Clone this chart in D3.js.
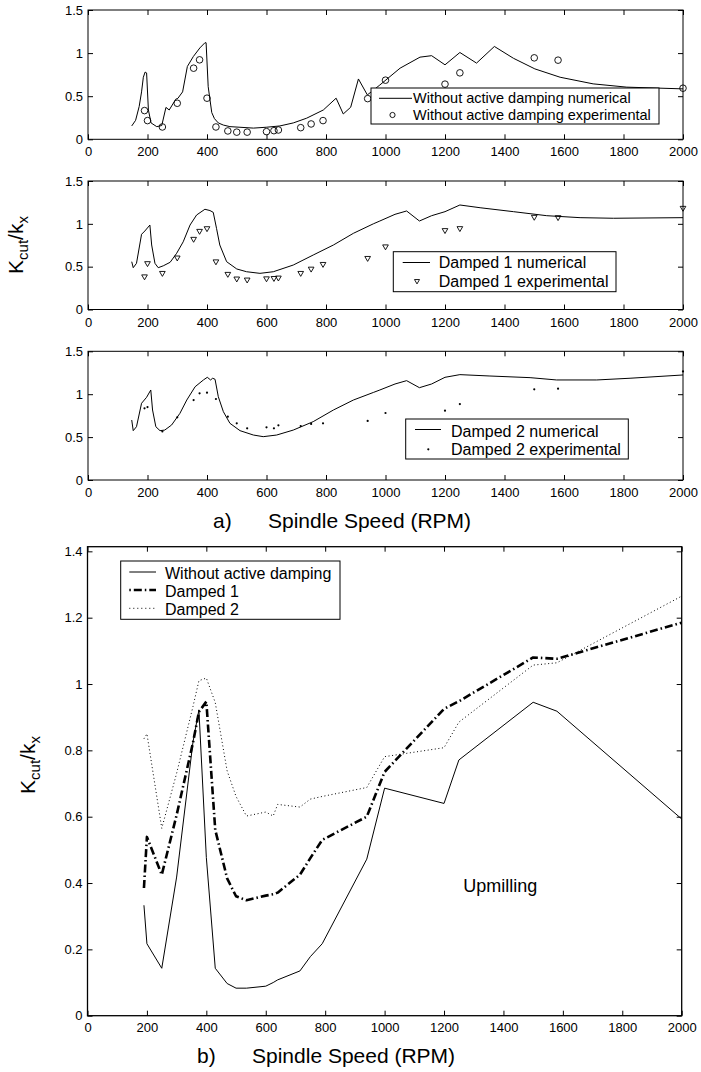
<!DOCTYPE html>
<html><head><meta charset="utf-8">
<script src="https://cdn.jsdelivr.net/npm/d3@7"></script>
<style>
body{margin:0;background:#fff}
svg{display:block}
text{font-family:"Liberation Sans",Arial,Helvetica,sans-serif;fill:#000}
</style>
</head><body>
<svg id="c" width="701" height="1072"></svg>
<script>
// ---------- data ----------
const xTicks = [0,200,400,600,800,1000,1200,1400,1600,1800,2000];
const yTicksSmall = [0,0.5,1,1.5];
const yTicksBig = [0,0.2,0.4,0.6,0.8,1,1.2,1.4];

// experimental spindle speeds (RPM)
const expSpeeds = [190,200,250,300,355,375,400,430,470,500,535,600,625,640,715,750,790,940,1000,1200,1250,1500,1580,2000];
const undampedExp = [0.333,0.217,0.143,0.418,0.825,0.922,0.477,0.143,0.097,0.083,0.083,0.089,0.100,0.108,0.135,0.178,0.217,0.472,0.686,0.640,0.771,0.945,0.918,0.593];
const damped1Exp  = [0.385,0.539,0.425,0.605,0.823,0.916,0.947,0.560,0.414,0.360,0.348,0.362,0.366,0.371,0.425,0.475,0.530,0.600,0.735,0.925,0.948,1.080,1.076,1.185];
const damped2Exp  = [0.835,0.850,0.565,0.731,0.932,1.010,1.018,0.944,0.738,0.661,0.602,0.614,0.602,0.637,0.629,0.653,0.661,0.688,0.781,0.808,0.885,1.057,1.064,1.265];

// numerical stability boundaries
const undampedNumSpeeds = [147,160,172,180,186,192,197,203,212,231,248,262,273,295,302,318,334,354,376,393,397,404,416,425,438,455,477,556,600,645,690,735,791,834,858,883,909,939,981,1049,1116,1155,1200,1250,1306,1366,1430,1502,1587,1698,1811,2000];
const undampedNumValues = [0.155,0.22,0.38,0.55,0.72,0.78,0.77,0.34,0.19,0.147,0.16,0.37,0.34,0.465,0.475,0.55,0.845,0.96,1.06,1.12,1.12,0.61,0.31,0.24,0.19,0.165,0.147,0.13,0.14,0.155,0.19,0.245,0.34,0.477,0.294,0.372,0.70,0.515,0.63,0.825,0.953,0.97,0.864,1.007,0.884,1.077,0.94,0.817,0.72,0.643,0.605,0.585];

const damped1NumSpeeds = [147,152,163,180,191,208,214,225,236,253,276,298,320,343,365,393,410,421,432,443,466,500,533,578,623,690,757,825,892,959,981,1032,1071,1114,1155,1200,1250,1318,1430,1542,1654,1766,2000];
const damped1NumValues = [0.558,0.488,0.539,0.878,0.916,0.986,0.753,0.539,0.488,0.51,0.551,0.656,0.79,0.986,1.103,1.17,1.155,1.134,0.947,0.753,0.558,0.473,0.441,0.422,0.441,0.519,0.636,0.753,0.889,1.0,1.033,1.111,1.15,1.033,1.095,1.142,1.22,1.188,1.142,1.095,1.072,1.065,1.072];

const damped2NumSpeeds = [147,152,163,180,197,211,217,228,242,258,281,309,332,360,388,401,412,419,427,438,455,477,511,556,589,634,690,757,825,892,959,981,1032,1071,1114,1155,1200,1250,1351,1486,1575,1710,1822,2000];
const damped2NumValues = [0.699,0.575,0.621,0.894,0.964,1.049,0.816,0.621,0.575,0.582,0.641,0.777,0.932,1.087,1.166,1.197,1.166,1.186,1.174,0.971,0.796,0.661,0.575,0.524,0.505,0.524,0.582,0.68,0.816,0.932,1.02,1.049,1.119,1.158,1.076,1.119,1.197,1.228,1.212,1.193,1.166,1.166,1.186,1.224];

const legend1 = ["Without active damping numerical","Without active damping experimental"];
const legend2 = ["Damped 1 numerical","Damped 1 experimental"];
const legend3 = ["Damped 2 numerical","Damped 2 experimental"];
const legend4 = ["Without active damping","Damped 1","Damped 2"];

// ---------- drawing ----------
const svg = d3.select("#c");
const FONT = '"Liberation Sans",Arial,Helvetica,sans-serif';

function zip(xs, ys){ return xs.map((x,i)=>[x,ys[i]]); }

function makeAxes(x0,x1,y0,y1,yMax,yTicks,labPad,frameW){
  const x = d3.scaleLinear().domain([0,2000]).range([x0,x1]);
  const y = d3.scaleLinear().domain([0,yMax]).range([y1,y0]);
  const g = svg.append("g");
  const fmt = d => String(d);
  const style = sel => {
    sel.select(".domain").remove();
    sel.selectAll(".tick line").attr("stroke","#000").attr("stroke-width",1);
    sel.attr("font-family",FONT).attr("font-size",13);
    sel.selectAll(".tick text").attr("fill","#000");
  };
  g.append("g").attr("transform",`translate(0,${y1})`)
    .call(d3.axisBottom(x).tickValues(xTicks).tickFormat(fmt).tickSizeInner(-5).tickSizeOuter(0).tickPadding(labPad)).call(style);
  g.append("g").attr("transform",`translate(0,${y0})`)
    .call(d3.axisTop(x).tickValues(xTicks).tickFormat("").tickSizeInner(-5).tickSizeOuter(0)).call(style);
  g.append("g").attr("transform",`translate(${x0},0)`)
    .call(d3.axisLeft(y).tickValues(yTicks).tickFormat(fmt).tickSizeInner(-5).tickSizeOuter(0).tickPadding(5)).call(style);
  g.append("g").attr("transform",`translate(${x1},0)`)
    .call(d3.axisRight(y).tickValues(yTicks).tickFormat("").tickSizeInner(-5).tickSizeOuter(0)).call(style);
  g.append("rect").attr("x",x0).attr("y",y0).attr("width",x1-x0).attr("height",y1-y0)
    .attr("fill","none").attr("stroke","#000").attr("stroke-width",frameW);
  return {x,y};
}

const line = (sc) => d3.line().x(d=>sc.x(d[0])).y(d=>sc.y(d[1]));

function drawPath(sc, pts, w, dash){
  svg.append("path").attr("d",line(sc)(pts)).attr("fill","none")
    .attr("stroke","#000").attr("stroke-width",w)
    .attr("stroke-dasharray",dash||null).attr("stroke-linejoin","round");
}

function marker(type, cx, cy, legend){
  if(type==="circle"){
    svg.append("circle").attr("cx",cx).attr("cy",cy).attr("r",legend?2.6:3.3)
      .attr("fill","none").attr("stroke","#000").attr("stroke-width",0.9);
  } else if(type==="tri"){
    svg.append("path").attr("d",d3.symbol(d3.symbolTriangle, legend?11:14)())
      .attr("transform",`translate(${cx},${cy}) rotate(180)`)
      .attr("fill","none").attr("stroke","#000").attr("stroke-width",0.9);
  } else {
    svg.append("circle").attr("cx",cx).attr("cy",cy).attr("r",1.1).attr("fill","#000");
  }
}

function legendBox(bx,by,bw,bh){
  svg.append("rect").attr("x",bx).attr("y",by).attr("width",bw).attr("height",bh)
    .attr("fill","#fff").attr("stroke","#000").attr("stroke-width",1);
}
function legendText(x,y,txt,fs){
  svg.append("text").attr("x",x).attr("y",y).attr("font-size",fs).text(txt);
}

// panel 1
const p1 = makeAxes(88,683,10,139.3,1.5,yTicksSmall,7.8,1);
drawPath(p1, zip(undampedNumSpeeds,undampedNumValues), 1);
zip(expSpeeds,undampedExp).forEach(d=>marker("circle",p1.x(d[0]),p1.y(d[1])));
legendBox(371,88,288,36);
svg.append("line").attr("x1",379).attr("x2",412).attr("y1",98.3).attr("y2",98.3).attr("stroke","#000");
marker("circle",392.5,115,true);
legendText(413,102.5,legend1[0],14.5);
legendText(413,120,legend1[1],14.5);

// panel 2
const p2 = makeAxes(88,683,181,309.5,1.5,yTicksSmall,7.8,1);
drawPath(p2, zip(damped1NumSpeeds,damped1NumValues), 1);
zip(expSpeeds,damped1Exp).forEach(d=>marker("tri",p2.x(d[0]),p2.y(d[1])));
legendBox(393.3,251.7,222.7,40);
svg.append("line").attr("x1",402.7).attr("x2",430).attr("y1",262.5).attr("y2",262.5).attr("stroke","#000");
marker("tri",417,281,true);
legendText(438.7,268.3,legend2[0],16);
legendText(438.7,286.7,legend2[1],16);

// panel 3
const p3 = makeAxes(88,683,351.3,480,1.5,yTicksSmall,7.8,1);
drawPath(p3, zip(damped2NumSpeeds,damped2NumValues), 1);
zip(expSpeeds,damped2Exp).forEach(d=>marker("dot",p3.x(d[0]),p3.y(d[1])));
legendBox(405.7,419,222.6,40);
svg.append("line").attr("x1",415).attr("x2",441).attr("y1",429.5).attr("y2",429.5).attr("stroke","#000");
marker("dot",428.3,449.3,true);
legendText(451,436.7,legend3[0],16);
legendText(451,454.5,legend3[1],16);

// y label (top group)
function yLabel(cx,cy){
  const t = svg.append("text").attr("transform",`translate(${cx},${cy}) rotate(-90)`)
    .attr("text-anchor","middle").attr("font-size",21);
  t.append("tspan").text("K");
  t.append("tspan").attr("font-size",15).attr("dy",5).text("cut");
  t.append("tspan").attr("dy",-5).text("/k");
  t.append("tspan").attr("font-size",15).attr("dy",5).text("x");
}
yLabel(23.3,245);

svg.append("text").attr("x",213).attr("y",528).attr("font-size",21).text("a)");
svg.append("text").attr("x",268).attr("y",528).attr("font-size",21).text("Spindle Speed (RPM)");

// panel 4
const p4 = makeAxes(87.5,681.7,546.7,1015.7,1.414,yTicksBig,7,1.3);
drawPath(p4, zip(expSpeeds,undampedExp), 1);
drawPath(p4, zip(expSpeeds,damped1Exp), 2.6, "8,3,1.5,3");
drawPath(p4, zip(expSpeeds,damped2Exp), 1, "1,2.6");
legendBox(120.7,561,219.3,58.3);
svg.append("line").attr("x1",129.3).attr("x2",156).attr("y1",572).attr("y2",572).attr("stroke","#000").attr("stroke-width",1);
svg.append("line").attr("x1",129.3).attr("x2",156).attr("y1",590).attr("y2",590).attr("stroke","#000").attr("stroke-width",2.6).attr("stroke-dasharray","1.5,3,8,3");
svg.append("line").attr("x1",129.3).attr("x2",156).attr("y1",608.3).attr("y2",608.3).attr("stroke","#000").attr("stroke-width",1).attr("stroke-dasharray","1,3");
legendText(165,579,legend4[0],16);
legendText(165,596.7,legend4[1],16);
legendText(165,614.5,legend4[2],16);
svg.append("text").attr("x",463.3).attr("y",891.5).attr("font-size",18).text("Upmilling");
yLabel(35,765);
svg.append("text").attr("x",197).attr("y",1063).attr("font-size",21).text("b)");
svg.append("text").attr("x",252).attr("y",1063).attr("font-size",21).text("Spindle Speed (RPM)");
</script>
</body></html>
